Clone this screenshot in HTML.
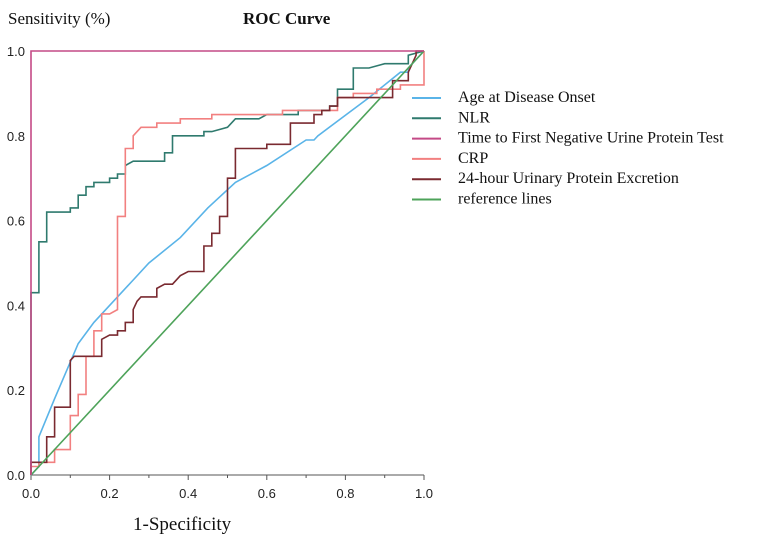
<!DOCTYPE html>
<html><head><meta charset="utf-8"><style>
body{margin:0;background:#fff;}
svg{display:block;}
.tk{font-family:"Liberation Sans",sans-serif;font-size:13px;fill:#222;}
.sf{font-family:"Liberation Serif",serif;fill:#111;}
</style></head><body>
<svg id="chart" width="768" height="539">
<text class="sf" x="8" y="24" font-size="17">Sensitivity (%)</text>
<text class="sf" x="243" y="24" font-size="17" font-weight="bold">ROC  Curve</text>
<text class="sf" x="133" y="530" font-size="19">1-Specificity</text>
<g id="axes"></g><g id="lines"></g><g id="legend"></g>
</svg>
<script>
const xTicks=[0,0.2,0.4,0.6,0.8,1.0];
const yTicks=[0,0.2,0.4,0.6,0.8,1.0];
const seriesNames=["Age at Disease Onset","NLR","Time to First Negative Urine Protein Test","CRP","24-hour Urinary Protein Excretion","reference lines"];
const seriesColors=["#5ab4e8","#2f7a6e","#c44a86","#f28080","#7a2a30","#4ea35a"];
const ageX=[0,0.02,0.02,0.06,0.12,0.16,0.2,0.26,0.3,0.38,0.45,0.52,0.6,0.7,0.72,0.73,0.86,0.94,0.96,0.96,1];
const ageY=[0,0.02,0.09,0.18,0.31,0.36,0.40,0.46,0.50,0.56,0.63,0.69,0.73,0.79,0.79,0.80,0.89,0.95,0.95,0.96,1];
const nlrX=[0,0,0.02,0.02,0.04,0.04,0.1,0.1,0.12,0.12,0.14,0.14,0.16,0.16,0.2,0.2,0.22,0.22,0.24,0.24,0.26,0.34,0.34,0.36,0.36,0.44,0.44,0.46,0.5,0.52,0.58,0.6,0.68,0.68,0.76,0.76,0.78,0.78,0.82,0.82,0.86,0.9,0.96,0.96,1];
const nlrY=[0,0.43,0.43,0.55,0.55,0.62,0.62,0.63,0.63,0.66,0.66,0.68,0.68,0.69,0.69,0.70,0.70,0.71,0.71,0.73,0.74,0.74,0.76,0.76,0.80,0.80,0.81,0.81,0.82,0.84,0.84,0.85,0.85,0.86,0.86,0.87,0.87,0.91,0.91,0.96,0.96,0.97,0.97,0.99,1];
const timeX=[0,0,1];
const timeY=[0,1,1];
const crpX=[0,0,0.02,0.02,0.06,0.06,0.1,0.1,0.12,0.12,0.14,0.14,0.16,0.16,0.18,0.18,0.2,0.22,0.22,0.24,0.24,0.26,0.26,0.27,0.28,0.32,0.32,0.38,0.38,0.46,0.46,0.64,0.64,0.78,0.78,0.82,0.82,0.88,0.88,0.94,0.94,1,1];
const crpY=[0,0.02,0.02,0.03,0.03,0.06,0.06,0.14,0.14,0.19,0.19,0.28,0.28,0.34,0.34,0.38,0.38,0.39,0.61,0.61,0.77,0.77,0.80,0.81,0.82,0.82,0.83,0.83,0.84,0.84,0.85,0.85,0.86,0.86,0.89,0.89,0.90,0.90,0.91,0.91,0.92,0.92,1];
const uX=[0,0,0.04,0.04,0.06,0.06,0.1,0.1,0.11,0.18,0.18,0.2,0.22,0.22,0.24,0.24,0.26,0.26,0.27,0.28,0.32,0.32,0.34,0.36,0.38,0.4,0.44,0.44,0.46,0.46,0.48,0.48,0.5,0.5,0.52,0.52,0.6,0.6,0.66,0.66,0.72,0.72,0.74,0.74,0.76,0.76,0.78,0.78,0.92,0.92,0.96,0.96,0.98,0.98,1];
const uY=[0,0.03,0.03,0.09,0.09,0.16,0.16,0.27,0.28,0.28,0.32,0.33,0.33,0.34,0.34,0.36,0.36,0.39,0.41,0.42,0.42,0.44,0.45,0.45,0.47,0.48,0.48,0.54,0.54,0.57,0.57,0.61,0.61,0.70,0.70,0.77,0.77,0.78,0.78,0.83,0.83,0.85,0.85,0.86,0.86,0.87,0.87,0.89,0.89,0.93,0.93,0.95,0.99,1,1];
const refX=[0,1];
const refY=[0,1];

const X0=31,X1=424,Y0=475,Y1=51;
const sx=v=>X0+v*(X1-X0);
const sy=v=>Y0-v*(Y0-Y1);
const NS="http://www.w3.org/2000/svg";
function mk(tag,attrs,parent){const e=document.createElementNS(NS,tag);for(const k in attrs)e.setAttribute(k,attrs[k]);parent.appendChild(e);return e;}
const axes=document.getElementById('axes');
const xa=mk('line',{x1:X0,y1:Y0,x2:X1,y2:Y0,stroke:'#555','stroke-width':1},axes);


const ya=mk('line',{x1:X0,y1:Y0,x2:X0,y2:Y1,stroke:'#555','stroke-width':1},axes);


xTicks.forEach(t=>{
 mk('line',{x1:sx(t),y1:Y0,x2:sx(t),y2:Y0+5,stroke:'#555'},axes);
 if(t<1){mk('line',{x1:sx(t+0.1),y1:Y0,x2:sx(t+0.1),y2:Y0+3,stroke:'#555'},axes);}
 const e=mk('text',{x:sx(t),y:Y0+23,'text-anchor':'middle',class:'tk'},axes);e.textContent=t.toFixed(1);
 
 
});
yTicks.forEach(t=>{
 const e=mk('text',{x:X0-6,y:sy(t)+5,'text-anchor':'end',class:'tk'},axes);e.textContent=t.toFixed(1);
 
 
});
const lines=document.getElementById('lines');
const all=[[ageX,ageY],[nlrX,nlrY],[crpX,crpY],[uX,uY],[refX,refY],[timeX,timeY]];
const idx=[0,1,3,4,5,2];
const lineNames=['line-age','line-nlr','line-crp','line-24h-protein','line-reference','line-time-negative'];
all.forEach((s,i)=>{
 const pts=s[0].map((x,j)=>sx(x).toFixed(1)+','+sy(s[1][j]).toFixed(1)).join(' ');
 const p=mk('polyline',{points:pts,fill:'none',stroke:seriesColors[idx[i]],'stroke-width':1.6},lines);
 
 
});
const lg=document.getElementById('legend');
seriesNames.forEach((n,i)=>{
 const y=98+i*20.3;
 const l=mk('line',{x1:412,y1:y,x2:441,y2:y,stroke:seriesColors[i],'stroke-width':2},lg);
 
 
 const t=mk('text',{x:458,y:y+4,'font-size':16,class:'sf'},lg);t.textContent=n;
 
 
});
</script>
</body></html>
